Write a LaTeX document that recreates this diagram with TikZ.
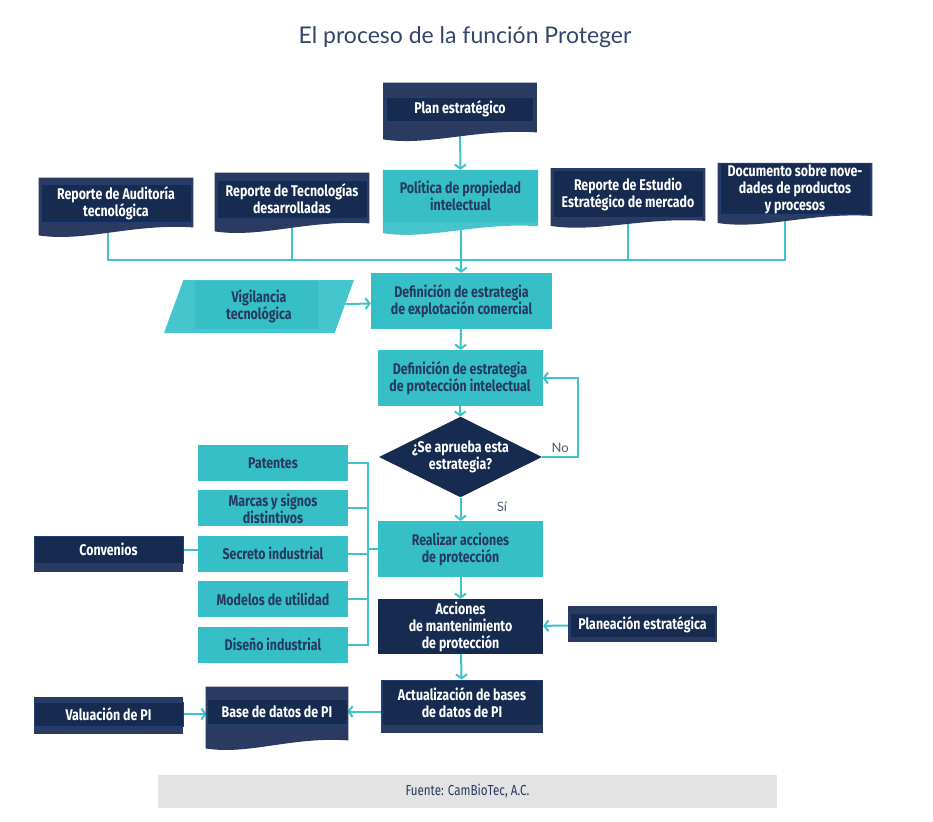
\documentclass[tikz,border=0pt]{standalone}
\usepackage{fontspec}
\setmainfont{Lato}
\newfontfamily\condfont[FakeStretch=0.8]{Fira Sans}
\usetikzlibrary{arrows.meta,positioning,shapes.geometric,calc}

\definecolor{navyA}{HTML}{172B50}
\definecolor{navyB}{HTML}{2A3A60}
\definecolor{navyL}{HTML}{203E72}
\definecolor{navyT}{HTML}{263A5F}
\definecolor{cyanB}{HTML}{36BFC6}
\definecolor{cyanC}{HTML}{46C6CC}
\definecolor{cyanL}{HTML}{3EC3CB}
\definecolor{grayF}{HTML}{E3E3E3}
\definecolor{titleC}{HTML}{34456B}
\definecolor{tagC}{HTML}{4A5A78}

\pgfdeclarelayer{back}
\pgfdeclarelayer{shade}
\pgfsetlayers{back,shade,main}

% document sheet behind a text band: node, top, side, right depth, low depth, colour
\newcommand{\docback}[6]{%
  \fill[#6] let \p1=([shift={(-#3pt,#2pt)}]#1.north west),
                \p2=([shift={(#3pt,0pt)}]#1.south east), \n1={\x2-\x1} in
    (\x1,\y1) -- (\x2,\y1) -- (\x2,\y2-#4pt)
    .. controls (\x1+0.6*\n1,\y2-#4pt+4pt) and (\x1+0.3*\n1,\y2-#5pt-4pt) .. (\x1,\y2-#5pt+3pt) -- cycle;}
% plain sheet behind a text band: node, top, side, bottom, colour
\newcommand{\boxback}[5]{%
  \fill[#5] ([shift={(-#3pt,#2pt)}]#1.north west) rectangle ([shift={(#3pt,-#4pt)}]#1.south east);}

\begin{document}
\begin{tikzpicture}[x=1pt,y=-1pt,node distance=9pt,
    txt/.style={align=center,inner sep=1pt,font=\condfont\bfseries\fontsize{15.5}{17}\selectfont},
    cyanbox/.style={txt,rectangle,fill=cyanB,text=navyT},
    darkbox/.style={txt,rectangle,fill=navyA,text=white},
    darkband/.style={darkbox,draw=navyL,line width=0.8pt},
    line/.style={draw=cyanL,line width=2pt},
    arrow/.style={line,-{Straight Barb[length=4pt,width=11pt]}},
    tag/.style={font=\fontsize{13}{15}\selectfont,text=tagC}]
  \useasboundingbox (0,0) rectangle (933,821);

  \node[font=\fontsize{23}{27}\selectfont,text=titleC] (title) at (465,37) {El proceso de la función Proteger};

  % top row of reports
  \node[darkband,minimum width=147pt,minimum height=24pt] (plan) at (460,109) {Plan estratégico};
  \node[cyanbox,minimum width=155pt,minimum height=52pt] (pol) at (460.5,196) {Política de propiedad\\intelectual};
  \node[darkband,minimum width=150pt,minimum height=38pt] (aud) at (116,203) {Reporte de Auditoría\\tecnológica};
  \node[darkband,minimum width=150pt,minimum height=38pt] (tec) at (292,199) {Reporte de Tecnologías\\desarrolladas};
  \node[darkband,minimum width=150pt,minimum height=47pt] (est) at (628,194) {Reporte de Estudio\\Estratégico de mercado};
  \node[darkband,minimum width=150pt,minimum height=49pt] (nov) at (795,189) {Documento sobre nove-\\dades de productos\\y procesos};
  \coordinate (bus) at (460,260);

  % main column
  \node[cyanbox,minimum width=181pt,minimum height=56pt] (expl) at (461.5,301) {Definición de estrategia\\de explotación comercial};
  \node[txt,trapezium,trapezium left angle=61,trapezium right angle=119,trapezium stretches body,
        minimum width=190pt,minimum height=53pt,fill=cyanC,text=navyT,
        path picture={\fill[cyanB] ([shift={(31pt,-1pt)}]path picture bounding box.north west)
                       rectangle ([shift={(-36pt,4pt)}]path picture bounding box.south east);}]
        (vig) at (259,306.5) {Vigilancia\\tecnológica};
  \node[cyanbox,minimum width=165pt,minimum height=56pt] (prot) at (460,378) {Definición de estrategia\\de protección intelectual};
  \node[txt,diamond,aspect=2,minimum width=163pt,minimum height=80pt,inner sep=0pt,fill=navyA,text=white] (dia) at (460.5,457) {¿Se aprueba esta\\estrategia?};
  \node[cyanbox,minimum width=165pt,minimum height=56pt] (real) at (460.5,549) {Realizar acciones\\de protección};
  \node[darkbox,minimum width=165pt,minimum height=55pt] (mant) at (460.5,626.5) {Acciones\\de mantenimiento\\de protección};
  \node[darkband,minimum width=145pt,minimum height=24pt] (plane) at (642.5,625) {Planeación estratégica};
  \node[darkband,minimum width=160pt,minimum height=45pt] (act) at (462,702.5) {Actualización de bases\\de datos de PI};

  % protection types
  \node[cyanbox,minimum width=150pt,minimum height=36pt] (pat) at (273,463) {Patentes};
  \node[cyanbox,minimum width=150pt,minimum height=36pt,below=of pat] (mar) {Marcas y signos\\distintivos};
  \node[cyanbox,minimum width=150pt,minimum height=36pt,below=of mar] (sec) {Secreto industrial};
  \node[cyanbox,minimum width=150pt,minimum height=36pt,below=of sec] (mod) {Modelos de utilidad};
  \node[cyanbox,minimum width=150pt,minimum height=36pt,below=of mod] (dis) {Diseño industrial};
  \node[darkband,minimum width=149pt,minimum height=27pt] (conv) at (108.5,549.5) {Convenios};

  % bottom row
  \node[darkband,minimum width=149pt,minimum height=24pt] (val) at (108.5,714) {Valuación de PI};
  \node[darkband,minimum width=140pt,minimum height=25pt] (base) at (277,711.5) {Base de datos de PI};

  \node[fill=grayF,minimum width=619pt,minimum height=33pt,text=navyT,
        font=\condfont\fontsize{14.5}{17}\selectfont] (src) at (467.5,791) {Fuente: CamBioTec, A.C.};

  \begin{pgfonlayer}{shade}
    \docback{plan}{14}{3}{11}{21}{navyB}
    \docback{pol}{0}{0}{4}{14}{cyanC}
    \docback{aud}{6}{2}{5}{16}{navyB}
    \docback{tec}{7}{2}{5}{16}{navyB}
    \docback{est}{2}{2}{3}{11}{navyB}
    \docback{nov}{0}{2}{1}{11}{navyB}
    \docback{base}{12}{1}{16}{27}{navyB}
    \boxback{conv}{0}{0}{9}{navyB}
    \boxback{val}{5}{0}{8}{navyB}
    \boxback{plane}{7}{2}{5}{navyB}
    \boxback{act}{0}{1}{8}{navyB}
  \end{pgfonlayer}

  \begin{pgfonlayer}{back}
    \draw[arrow] (plan) -- (pol);
    \draw[line] ([xshift=-8pt]aud.south) |- (bus) -| ([xshift=-10pt]nov.south);
    \draw[line] (tec) -- (tec |- bus);
    \draw[line] (est) -- (est |- bus);
    \draw[arrow] (pol) -- (expl);
    \draw[arrow] (vig) -- (expl);
    \draw[arrow] (expl) -- (prot);
    \draw[arrow] (prot) -- (dia);
    \draw[arrow] (dia.east) -- ++(36,0) node[tag,midway,above] {No} |- (prot.east);
    \draw[arrow] (dia) -- node[tag,right=32pt,pos=0.4] {Sí} (real);
    \coordinate (brk) at ([xshift=-10pt]real.west);
    \foreach \n in {pat,mar,sec,mod,dis}
      \draw[line,line cap=rect] (\n) -- (\n -| brk);
    \draw[line,line cap=rect] (pat -| brk) -- (dis -| brk);
    \draw[line] (brk) -- (real);
    \draw[line] (conv) -- (conv -| sec.west);
    \draw[arrow] (real) -- (mant);
    \draw[arrow] (plane) -- (mant);
    \draw[arrow] (mant) -- (act);
    \draw[arrow] (act.west |- base) -- (base);
    \draw[arrow] (val) -- (val -| base.west);
  \end{pgfonlayer}
\end{tikzpicture}
\end{document}
